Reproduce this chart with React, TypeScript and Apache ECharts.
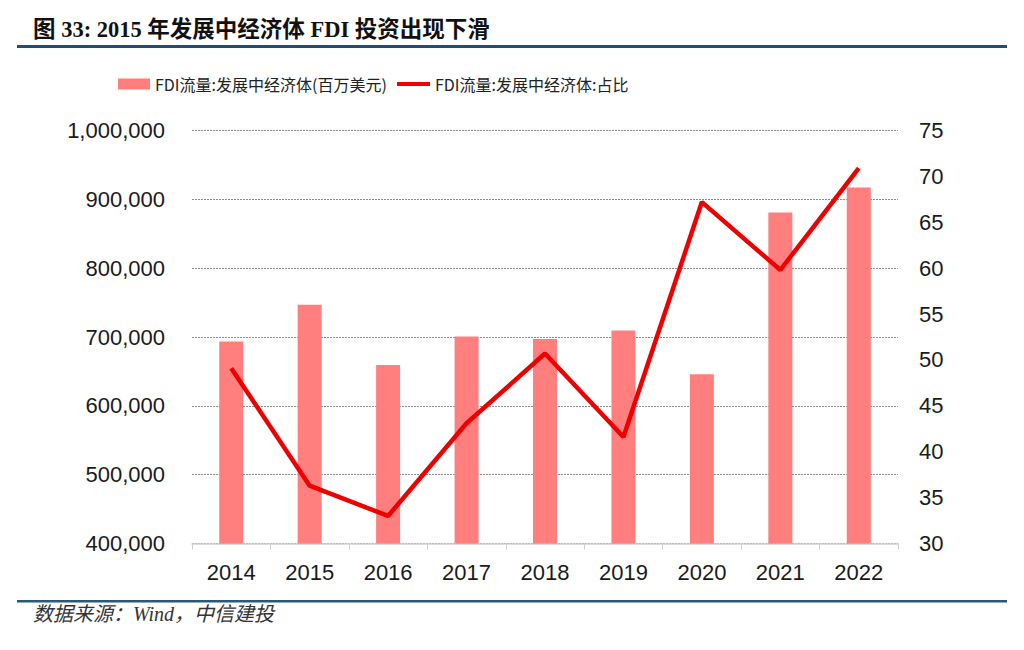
import React, { useEffect, useRef } from "react";
import * as echarts from "echarts";

const years = ["2014", "2015", "2016", "2017", "2018", "2019", "2020", "2021", "2022"];
const fdiFlow = [693300, 746700, 659400, 700600, 697200, 709300, 645900, 880800, 917200];
const fdiShare = [49.1, 36.3, 33.0, 43.1, 50.7, 41.6, 67.2, 59.8, 70.9];
const barName = "FDI流量:发展中经济体(百万美元)";
const lineName = "FDI流量:发展中经济体:占比";
const titleText = "图 33: 2015 年发展中经济体 FDI 投资出现下滑";
const sourceText = "数据来源：Wind，中信建投";

export default function App() {
  const ref = useRef<HTMLDivElement>(null);
  useEffect(() => {
    if (!ref.current) return;
    const chart = echarts.init(ref.current, null, { renderer: "svg" });
    const axisFont = { fontFamily: "Liberation Sans, Arial, sans-serif", fontSize: 22, color: "#1a1a1a" };
    const legendFont = { fontFamily: "Noto Sans CJK SC", fontSize: 16, color: "#222" };
    chart.setOption({
      animation: false,
      backgroundColor: "#ffffff",
      grid: { left: 192, right: 126, top: 130.5, bottom: 106.5, containLabel: false },
      legend: [
        {
          data: [{ name: barName, icon: "rect" }],
          left: 113,
          top: 71,
          itemWidth: 32,
          itemHeight: 11,
          textStyle: legendFont,
        },
        {
          data: [{ name: lineName, icon: "rect" }],
          left: 392,
          top: 71,
          itemWidth: 33,
          itemHeight: 4,
          textStyle: legendFont,
        },
      ],
      xAxis: {
        type: "category",
        data: years,
        boundaryGap: true,
        axisLine: { show: true, lineStyle: { color: "#cfcfcf", width: 1.5 } },
        axisTick: { show: true, alignWithLabel: false, length: 6, lineStyle: { color: "#cfcfcf" } },
        axisLabel: { ...axisFont, margin: 18 },
      },
      yAxis: [
        {
          type: "value",
          min: 400000,
          max: 1000000,
          interval: 100000,
          axisLine: { show: false },
          axisTick: { show: false },
          axisLabel: {
            ...axisFont,
            margin: 27,
            formatter: (v: number) => v.toLocaleString("en-US"),
          },
          splitLine: { show: true, lineStyle: { color: "#8c8c8c", width: 1, type: [2, 1] } },
        },
        {
          type: "value",
          min: 30,
          max: 75,
          interval: 5,
          axisLine: { show: false },
          axisTick: { show: false },
          axisLabel: { ...axisFont, margin: 21 },
          splitLine: { show: false },
        },
      ],
      series: [
        {
          name: barName,
          type: "bar",
          data: fdiFlow,
          barWidth: 24,
          itemStyle: { color: "#FF7F7F" },
          yAxisIndex: 0,
        },
        {
          name: lineName,
          type: "line",
          data: fdiShare,
          yAxisIndex: 1,
          symbol: "none",
          lineStyle: { color: "#EE0000", width: 4.5 },
          itemStyle: { color: "#EE0000" },
        },
      ],
      graphic: [
        {
          type: "text",
          left: 33,
          top: 18,
          style: {
            text: titleText,
            font: "bold 22.5px 'Liberation Serif', 'Noto Sans CJK SC', serif",
            fill: "#111",
          },
        },
        {
          type: "rect",
          shape: { x: 17, y: 45, width: 990, height: 3 },
          style: { fill: "#1F4E79" },
        },
        {
          type: "rect",
          shape: { x: 17, y: 600, width: 990, height: 2.5 },
          style: { fill: "#2A5878" },
        },
        {
          type: "text",
          left: 33,
          top: 604,
          style: {
            text: sourceText,
            font: "italic 20px 'Liberation Serif', 'Noto Sans CJK SC', serif",
            fill: "#333",
          },
        },
      ],
    });
    return () => chart.dispose();
  }, []);
  return (
    <div
      ref={ref}
      style={{ position: "fixed", left: 0, top: 0, width: 1024, height: 650, background: "#fff" }}
    />
  );
}
